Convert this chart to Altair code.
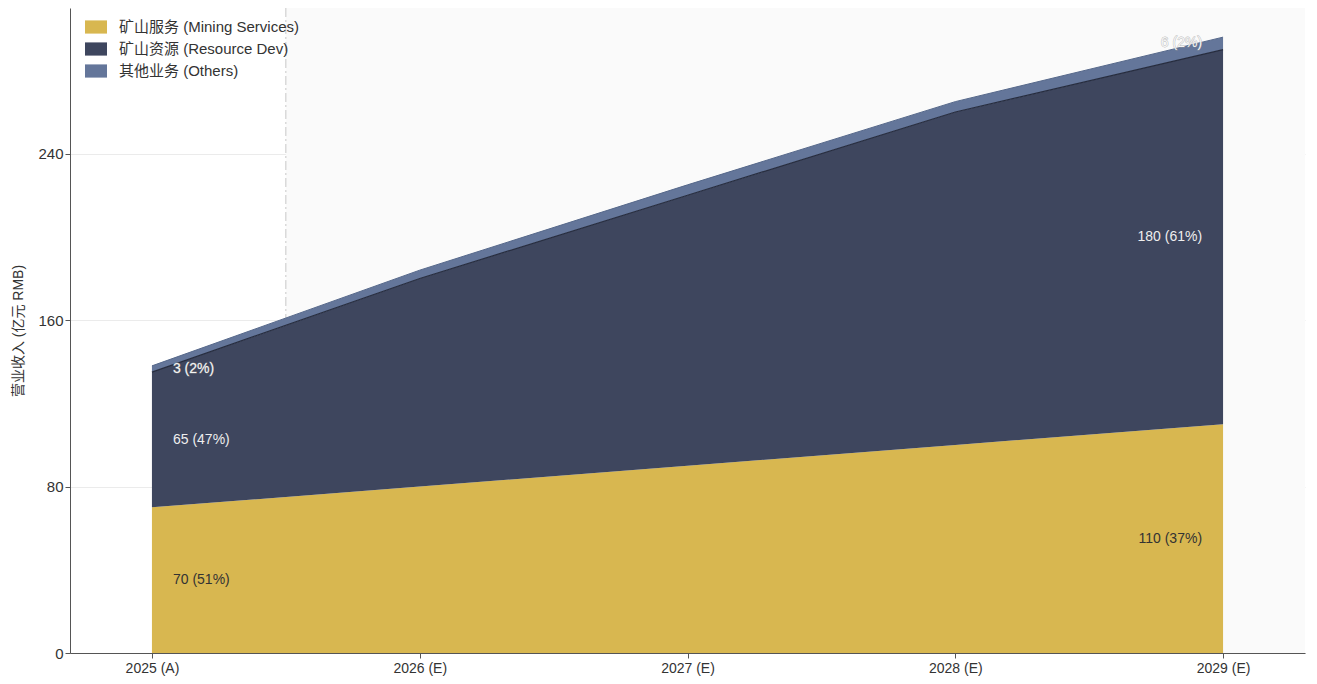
import altair as alt
import pandas as pd

years = [2025, 2026, 2027, 2028, 2029]
year_labels = ["2025 (A)", "2026 (E)", "2027 (E)", "2028 (E)", "2029 (E)"]
series = ["矿山服务 (Mining Services)", "矿山资源 (Resource Dev)", "其他业务 (Others)"]
mining = [70, 80, 90, 100, 110]
resource = [65, 100, 130, 160, 180]
others = [3, 4, 5, 5, 6]
colors = ["#d8b750", "#3e465e", "#64769a"]
forecast_start = 2025.5

FONT = "Liberation Sans, Noto Sans CJK SC, sans-serif"

rows = []
vals = [mining, resource, others]
for i, y in enumerate(years):
    total = mining[i] + resource[i] + others[i]
    base = 0
    for k, s in enumerate(series):
        v = vals[k][i]
        rows.append({
            "year": y, "series": s, "order": k, "value": v,
            "y0": base, "y1": base + v, "mid": base + v / 2,
            "label": f"{v} ({round(v / total * 100)}%)",
        })
        base += v
df = pd.DataFrame(rows)

label_expr = " : ".join(
    f"datum.value == {y} ? '{l}'" for y, l in zip(years, year_labels)
) + " : ''"

xscale = alt.Scale(domain=[2024.694, 2029.306], nice=False, zero=False)
yscale = alt.Scale(domain=[0, 310], nice=False)

x_enc = alt.X("year:Q", scale=xscale,
              axis=alt.Axis(values=years, labelExpr=label_expr, grid=False,
                            title=None, labelFontSize=14, labelColor="#333",
                            domainColor="#555", tickColor="#555", tickSize=5,
                            labelPadding=3, labelFlush=False))

bg = alt.Chart(pd.DataFrame({"x": [forecast_start], "x2": [2029.306]})).mark_rect(
    color="#fafafa").encode(
    x=alt.X("x:Q", scale=xscale), x2="x2:Q",
    y=alt.value(0), y2=alt.value(645))

vline = alt.Chart(pd.DataFrame({"x": [forecast_start]})).mark_rule(
    color="#c8c8c8", strokeWidth=1, strokeDash=[9, 3, 2, 3]).encode(
    x=alt.X("x:Q", scale=xscale))

area = alt.Chart(df).mark_area(opacity=1).encode(
    x=x_enc,
    y=alt.Y("y1:Q", scale=yscale,
            axis=alt.Axis(values=[0, 80, 160, 240], title="营业收入 (亿元 RMB)",
                          titleFontSize=14, titleFontWeight="normal",
                          titleColor="#333", labelFontSize=15, labelColor="#333",
                          gridColor="#ebebeb", domainColor="#555", tickColor="#555",
                          tickSize=5, titlePadding=12)),
    y2="y0:Q",
    color=alt.Color("series:N", scale=alt.Scale(domain=series, range=colors),
                    legend=alt.Legend(title=None, orient="none", legendX=15, legendY=8,
                                      symbolType="M-1,-0.6H1V0.6H-1Z", symbolSize=484,
                                      symbolStrokeWidth=0, labelFontSize=15,
                                      labelColor="#333", labelOffset=12,
                                      rowPadding=3, labelLimit=400)),
    order="order:Q",
)

edge = alt.Chart(df[df["order"] == 1]).mark_line(color="#262c3e", strokeWidth=1.2).encode(
    x=alt.X("year:Q", scale=xscale), y=alt.Y("y1:Q", scale=yscale))
edge2 = alt.Chart(df[df["order"] == 2]).mark_line(color="#56688a", strokeWidth=1).encode(
    x=alt.X("year:Q", scale=xscale), y=alt.Y("y1:Q", scale=yscale))

first = df[df["year"] == years[0]]
last = df[df["year"] == years[-1]]

def labels(sub, align, dx):
    base = alt.Chart(sub)
    enc = dict(x=alt.X("year:Q", scale=xscale), y=alt.Y("mid:Q", scale=yscale), text="label:N")
    dark = base.transform_filter("datum.order == 0").mark_text(
        align=align, dx=dx, fontSize=14, color="#333", font=FONT).encode(**enc)
    light = base.transform_filter("datum.order == 1").mark_text(
        align=align, dx=dx, fontSize=14, color="#eeeeee", font=FONT).encode(**enc)
    halo = base.transform_filter("datum.order == 2").mark_text(
        align=align, dx=dx, fontSize=14, fill="transparent", stroke="#999999",
        strokeWidth=0.8, strokeOpacity=0.7, font=FONT).encode(**enc)
    oth = base.transform_filter("datum.order == 2").mark_text(
        align=align, dx=dx, fontSize=14, color="#f4f4f4", font=FONT).encode(**enc)
    return [dark, light, halo, oth]

layers = [bg, vline, area, edge, edge2] + labels(first, "left", 21) + labels(last, "right", -21)

chart = alt.layer(*layers).properties(
    width=1235, height=645,
    autosize=alt.AutoSizeParams(type="none"),
    padding={"left": 62, "top": 0, "right": 4, "bottom": 31},
).configure(font=FONT).configure_view(stroke=None).configure_axis(
    labelFont=FONT, titleFont=FONT).configure_legend(labelFont=FONT)

chart.save("out.html", embed_options={"renderer": "svg", "actions": False})
